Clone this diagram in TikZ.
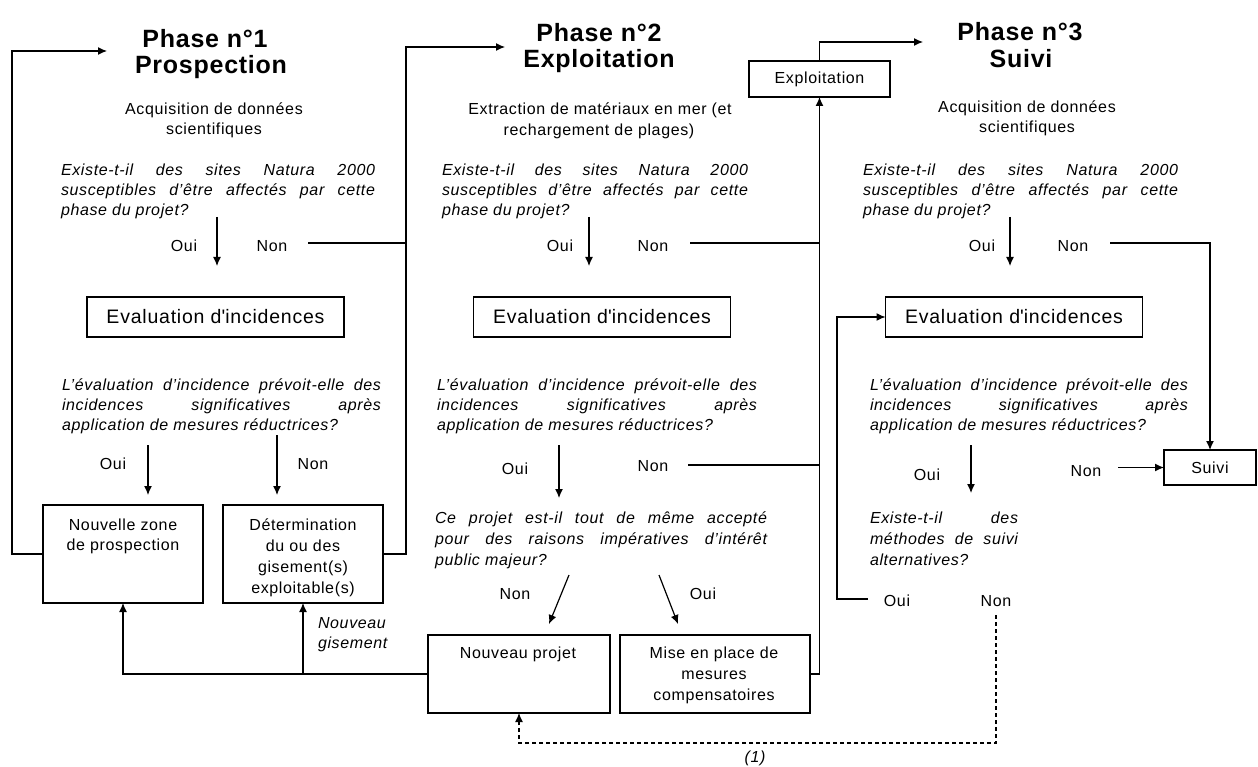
\documentclass[tikz,border=0pt]{standalone}
\usepackage{fontspec}
\setmainfont{Liberation Sans}[LetterSpace=4]
\newfontfamily\titlefont{Liberation Sans}[LetterSpace=3]
\usetikzlibrary{arrows.meta}
\newcommand\jline[2]{\makebox[#1][s]{#2}}
\begin{document}
\begin{tikzpicture}[x=1pt,y=-1pt,
  every node/.style={inner sep=0pt, outer sep=0pt},
  txt/.style={font=\fontsize{16}{20}\selectfont, anchor=base},
  itx/.style={font=\fontsize{16}{20}\selectfont\itshape, anchor=base west},
  ttl/.style={font=\titlefont\bfseries\fontsize{25}{26}\selectfont, anchor=base},
  box/.style={draw, line width=1.2pt},
  evbox/.style={box, minimum width=257pt, minimum height=40pt, font=\fontsize{19.5}{20}\selectfont},
  ln/.style={line width=1.2pt},
  arr/.style={ln, -{Latex[length=9pt,width=8pt]}},
  dsh/.style={line width=1.2pt, dash pattern=on 4pt off 3pt, -{Latex[length=9pt,width=8pt]}},
]
\useasboundingbox[fill=white] (0,0) rectangle (1258,767);

% ---------------- Phase 1 ----------------
\node[ttl] (t1a) at (205,48) {Phase n°1};
\node[ttl] (t1b) at (211,74) {Prospection};
\node[txt] (a1a) at (214,115) {Acquisition de données};
\node[txt] (a1b) at (214,135) {scientifiques};
\node[itx] (q1a1) at (61,176) {\jline{314pt}{Existe-t-il des sites Natura 2000}};
\node[itx] (q1a2) at (61,196) {\jline{314pt}{susceptibles d’être affectés par cette}};
\node[itx] (q1a3) at (61,216) {phase du projet?};
\node[txt] (o1a) at (184,252) {Oui};
\node[txt] (n1a) at (272,252) {Non};
\node[evbox] (e1) at (215.5,317) {Evaluation d\textquotesingle incidences};
\node[itx] (q1b1) at (62,390) {\jline{319pt}{L’évaluation d’incidence prévoit-elle des}};
\node[itx] (q1b2) at (62,410) {\jline{319pt}{incidences significatives après}};
\node[itx] (q1b3) at (62,430) {application de mesures réductrices?};
\node[txt] (o1b) at (113,469) {Oui};
\node[txt] (n1b) at (313,469) {Non};
\node[box, minimum width=160pt, minimum height=98pt] (nz) at (123,554) {};
\node[txt] (nzt1) at (123,530) {Nouvelle zone};
\node[txt] (nzt2) at (123,550) {de prospection};
\node[box, minimum width=160pt, minimum height=98pt] (det) at (303,554) {};
\node[txt] (dt1) at (303,530) {Détermination};
\node[txt] (dt2) at (303,551) {du ou des};
\node[txt] (dt3) at (303,572) {gisement(s)};
\node[txt] (dt4) at (303,593) {exploitable(s)};
\node[itx] (ng1) at (318,628) {Nouveau};
\node[itx] (ng2) at (318,648) {gisement};

% ---------------- Phase 2 ----------------
\node[ttl] (t2a) at (599,42) {Phase n°2};
\node[ttl] (t2b) at (599,68) {Exploitation};
\node[txt] (a2a) at (600,115) {Extraction de matériaux en mer (et};
\node[txt] (a2b) at (599,136) {rechargement de plages)};
\node[itx] (q2a1) at (442,176) {\jline{306pt}{Existe-t-il des sites Natura 2000}};
\node[itx] (q2a2) at (442,196) {\jline{306pt}{susceptibles d’être affectés par cette}};
\node[itx] (q2a3) at (442,216) {phase du projet?};
\node[txt] (o2a) at (560,252) {Oui};
\node[txt] (n2a) at (653,252) {Non};
\node[evbox] (e2) at (602,317) {Evaluation d\textquotesingle incidences};
\node[itx] (q2b1) at (437,390) {\jline{320pt}{L’évaluation d’incidence prévoit-elle des}};
\node[itx] (q2b2) at (437,410) {\jline{320pt}{incidences significatives après}};
\node[itx] (q2b3) at (437,430) {application de mesures réductrices?};
\node[txt] (o2b) at (515,474) {Oui};
\node[txt] (n2b) at (653,471) {Non};
\node[itx] (q2c1) at (435,523) {\jline{332pt}{Ce projet est-il tout de même accepté}};
\node[itx] (q2c2) at (435,544) {\jline{332pt}{pour des raisons impératives d’intérêt}};
\node[itx] (q2c3) at (435,565) {public majeur?};
\node[txt] (n2c) at (515,599) {Non};
\node[txt] (o2c) at (703,599) {Oui};
\node[box, minimum width=182pt, minimum height=78pt] (np) at (519,674) {};
\node[txt] (npt) at (518,658) {Nouveau projet};
\node[box, minimum width=190pt, minimum height=78pt] (mp) at (715,674) {};
\node[txt] (mpt1) at (714,658) {Mise en place de};
\node[txt] (mpt2) at (714,679) {mesures};
\node[txt] (mpt3) at (714,700) {compensatoires};
\node[box, minimum width=141pt, minimum height=36pt, font=\fontsize{16}{20}\selectfont] (ex) at (819.5,79) {Exploitation};
\node[font=\fontsize{16}{20}\selectfont\itshape, anchor=base] (one) at (755,762) {(1)};

% ---------------- Phase 3 ----------------
\node[ttl] (t3a) at (1020,41) {Phase n°3};
\node[ttl] (t3b) at (1021,68) {Suivi};
\node[txt] (a3a) at (1027,113) {Acquisition de données};
\node[txt] (a3b) at (1027,133) {scientifiques};
\node[itx] (q3a1) at (863,176) {\jline{315pt}{Existe-t-il des sites Natura 2000}};
\node[itx] (q3a2) at (863,196) {\jline{315pt}{susceptibles d’être affectés par cette}};
\node[itx] (q3a3) at (863,216) {phase du projet?};
\node[txt] (o3a) at (982,252) {Oui};
\node[txt] (n3a) at (1073,252) {Non};
\node[evbox] (e3) at (1014,317) {Evaluation d\textquotesingle incidences};
\node[itx] (q3b1) at (870,390) {\jline{318pt}{L’évaluation d’incidence prévoit-elle des}};
\node[itx] (q3b2) at (870,410) {\jline{318pt}{incidences significatives après}};
\node[itx] (q3b3) at (870,430) {application de mesures réductrices?};
\node[txt] (o3b) at (927,480) {Oui};
\node[txt] (n3b) at (1086,476) {Non};
\node[box, minimum width=92pt, minimum height=35pt, font=\fontsize{16}{20}\selectfont] (su) at (1210,467.5) {Suivi};
\node[itx] (q3c1) at (870,523) {\jline{148pt}{Existe-t-il des}};
\node[itx] (q3c2) at (870,544) {\jline{148pt}{méthodes de suivi}};
\node[itx] (q3c3) at (870,565) {alternatives?};
\node[txt] (o3c) at (897,606) {Oui};
\node[txt] (n3c) at (996,606) {Non};

% ---------------- coordinates ----------------
\coordinate (c1) at (12,51);   \coordinate (t1in) at (107,51);
\coordinate (c2) at (406,47);  \coordinate (t2in) at (505,47);
\coordinate (t3in) at (923,42);
\coordinate (r1s) at (308,243); \coordinate (r1e) at (406,243);
\coordinate (r2s) at (690,243); \coordinate (r2e) at (819.5,243);
\coordinate (r3s) at (1110,243);
\coordinate (s2s) at (688,465); \coordinate (s2e) at (819.5,465);
\coordinate (s3s) at (1118,467.5);
\coordinate (v1s) at (217,217); \coordinate (v1e) at (217,266);
\coordinate (v2s) at (589,217); \coordinate (v2e) at (589,266);
\coordinate (v3s) at (1010,217); \coordinate (v3e) at (1010,266);
\coordinate (w1s) at (148,445); \coordinate (w1e) at (148,495);
\coordinate (x1s) at (277,435); \coordinate (x1e) at (277,495);
\coordinate (w2s) at (559,445); \coordinate (w2e) at (559,498);
\coordinate (w3s) at (971,445); \coordinate (w3e) at (971,493);
\coordinate (dgns) at (569,575); \coordinate (dgne) at (549,624);
\coordinate (dgos) at (659,575); \coordinate (dgoe) at (678,624);
\coordinate (br) at (303,674);
\coordinate (o3l) at (868,599); \coordinate (o3c) at (837,317);
\coordinate (d3s) at (996,615); \coordinate (d3b) at (996,743);

% ---------------- connectors ----------------
\draw[arr] (nz.west) -| (c1) -- (t1in);
\draw[arr] (det.east) -| (c2) -- (t2in);
\draw[ln] (r1s) -- (r1e);
\draw[arr] (v1s) -- (v1e);
\draw[arr] (w1s) -- (w1e);
\draw[arr] (x1s) -- (x1e);
\draw[arr] (np.west) -| (nz.south);
\draw[arr] (br) -- (det.south);

\draw[arr] (v2s) -- (v2e);
\draw[ln] (r2s) -- (r2e);
\draw[arr] (w2s) -- (w2e);
\draw[ln] (s2s) -- (s2e);
\draw[arr] (dgns) -- (dgne);
\draw[arr] (dgos) -- (dgoe);
\draw[arr] (mp.east) -| (ex.south);
\draw[arr] (ex.north) |- (t3in);

\draw[arr] (v3s) -- (v3e);
\draw[arr] (r3s) -| (su.north);
\draw[arr] (w3s) -- (w3e);
\draw[arr] (s3s) -- (su.west);
\draw[arr] (o3l) -| (o3c) -- (e3.west);
\draw[dsh] (d3s) -- (d3b) -| (np.south);
\end{tikzpicture}
\end{document}
